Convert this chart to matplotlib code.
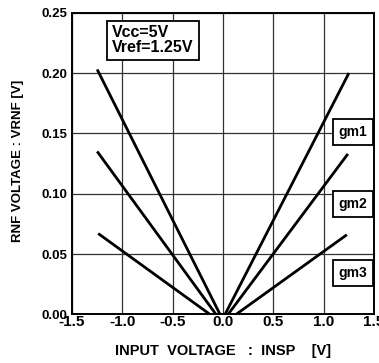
import numpy as np
import matplotlib.pyplot as plt

plt.rcParams['font.family'] = ['Liberation Sans', 'DejaVu Sans']
plt.rcParams['font.weight'] = 'bold'
plt.rcParams['axes.labelweight'] = 'bold'

# line end points (x in V, y in V)
gm1_left_x = [-1.25, -0.03]
gm1_left_y = [0.203, 0.0]
gm1_right_x = [0.02, 1.25]
gm1_right_y = [0.0, 0.200]

gm2_left_x = [-1.25, -0.07]
gm2_left_y = [0.135, 0.0]
gm2_right_x = [0.05, 1.24]
gm2_right_y = [0.0, 0.133]

gm3_left_x = [-1.24, -0.13]
gm3_left_y = [0.067, 0.0]
gm3_right_x = [0.13, 1.23]
gm3_right_y = [0.0, 0.066]

labels = ['gm1', 'gm2', 'gm3']
label_y = [0.151, 0.0915, 0.034]

xticks = [-1.5, -1.0, -0.5, 0.0, 0.5, 1.0, 1.5]
yticks = [0.00, 0.05, 0.10, 0.15, 0.20, 0.25]

fig = plt.figure(figsize=(3.79, 3.63), dpi=100)
ax = fig.add_axes([0.19, 0.134, 0.797, 0.831])

for xs, ys in [(gm1_left_x, gm1_left_y), (gm1_right_x, gm1_right_y),
               (gm2_left_x, gm2_left_y), (gm2_right_x, gm2_right_y),
               (gm3_left_x, gm3_left_y), (gm3_right_x, gm3_right_y)]:
    ax.plot(xs, ys, color='black', lw=2.0, solid_capstyle='butt', zorder=3)

ax.set_xlim(-1.5, 1.5)
ax.set_ylim(0, 0.25)
ax.set_xticks(xticks)
ax.set_yticks(yticks)
ax.set_xticklabels(['%.1f' % v for v in xticks], fontsize=11)
ax.set_yticklabels(['%.2f' % v for v in yticks], fontsize=9.5)
ax.tick_params(axis='x', length=0, pad=0.5)
ax.tick_params(axis='y', length=0, pad=3)
ax.grid(True, color='#333333', lw=0.9)
for s in ax.spines.values():
    s.set_linewidth(1.4)

ax.set_xlabel('INPUT  VOLTAGE   :  INSP    [V]', fontsize=10.5)
ax.xaxis.set_label_coords(0.5, -0.098)
ax.set_ylabel('RNF VOLTAGE : VRNF [V]', fontsize=9.5)
ax.yaxis.set_label_coords(-0.158, 0.51)

box = dict(boxstyle='square,pad=0.3', fc='white', ec='black', lw=1.3)
ax.text(-1.10, 0.2395, 'Vcc=5V\nVref=1.25V', fontsize=11.5, va='top', ha='left',
        bbox=box, linespacing=1.0, zorder=4)
for lab, yy in zip(labels, label_y):
    ax.text(1.29, yy, lab, fontsize=10, ha='center', va='center',
            bbox=dict(boxstyle='square,pad=0.42', fc='white', ec='black', lw=1.3),
            zorder=4)

fig.savefig('out.png', dpi=100)
